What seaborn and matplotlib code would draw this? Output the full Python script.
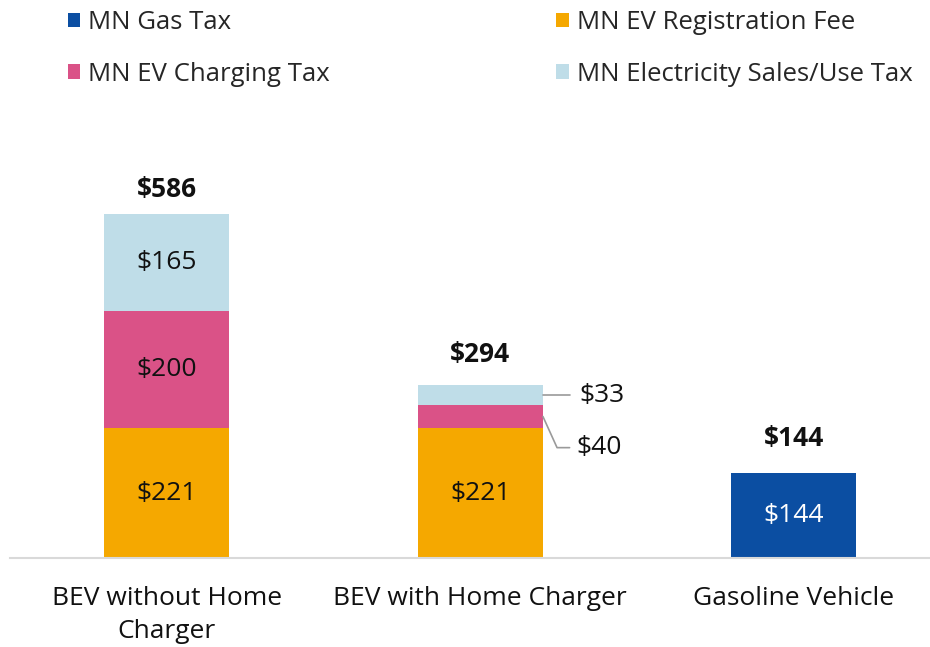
import matplotlib
matplotlib.use("Agg")
import matplotlib.pyplot as plt
import seaborn as sns
import numpy as np
from matplotlib.patches import Patch

categories = ["BEV without Home\nCharger", "BEV with Home Charger", "Gasoline Vehicle"]
series_names = ["MN Gas Tax", "MN EV Registration Fee", "MN EV Charging Tax",
                "MN Electricity Sales/Use Tax"]
gas_tax = [0, 0, 144]
registration_fee = [221, 221, 0]
charging_tax = [200, 40, 0]
electricity_tax = [165, 33, 0]
totals = [586, 294, 144]
colors = ["#0B4EA2", "#F5A800", "#DA5287", "#BFDDE8"]

sns.set_theme(style="white")
plt.rcParams["font.family"] = ["Open Sans", "DejaVu Sans"]

fig = plt.figure(figsize=(9.3, 6.47), dpi=100)
ax = fig.add_axes([10 / 930, 89 / 647, 920 / 930, 428.5 / 647])

layers = [gas_tax, registration_fee, charging_tax, electricity_tax]
cum = np.cumsum(np.array(layers), axis=0)
x = np.arange(len(categories))
bw = 0.4
# draw cumulative layers from top to bottom
for i in range(len(layers) - 1, -1, -1):
    sns.barplot(x=x, y=cum[i], color=colors[i], width=bw, ax=ax,
                linewidth=0, saturation=1, native_scale=True)

ax.set_xlim(-0.5, -0.5 + 920 / 313.5)
ax.set_ylim(0, 730)
for s in ["top", "right", "left"]:
    ax.spines[s].set_visible(False)
ax.spines["bottom"].set_color("#D9D9D9")
ax.spines["bottom"].set_linewidth(1.5)
ax.set_yticks([])
ax.set_xticks(x)
ax.set_xticklabels(categories, fontsize=19, color="#111111", linespacing=1.42)
ax.tick_params(axis="x", length=0, pad=20)
ax.set_xlabel("")
ax.set_ylabel("")

fs = 19
# inside labels
for j in range(len(categories)):
    bottom = 0
    for i, vals in enumerate(layers):
        v = vals[j]
        if v == 0:
            continue
        if v >= 100:
            ax.text(x[j], bottom + v / 2, f"${v}", ha="center", va="center",
                    fontsize=fs, color="white" if i == 0 else "#111111")
        bottom += v

total_gaps = [12, 17, 19.5]
for j in range(len(categories)):
    ax.annotate(f"${totals[j]}", (x[j], totals[j]), xytext=(0, total_gaps[j]),
                textcoords="offset points", ha="center", va="baseline",
                fontsize=fs, fontweight="bold", color="#111111")

# leader labels for small segments of second bar
j = 1
right = x[j] + bw / 2
mid_elec = cum[2][j] + electricity_tax[j] / 2
mid_charge = cum[1][j] + charging_tax[j] / 2
ax.plot([right, right + 0.085], [mid_elec, mid_elec], color="#9A9A9A", lw=1.2)
ax.text(right + 0.115, mid_elec, f"${electricity_tax[j]}", ha="left", va="center",
        fontsize=fs, color="#111111")
low = mid_charge - 53
ax.plot([right, right + 0.045, right + 0.085], [mid_charge, low, low],
        color="#9A9A9A", lw=1.2)
ax.text(right + 0.107, low, f"${charging_tax[j]}", ha="left", va="center",
        fontsize=fs, color="#111111")

handles = [Patch(facecolor=c, edgecolor="none") for c in colors]
order = [0, 2, 1, 3]
fig.legend([handles[k] for k in order], [series_names[k] for k in order],
           ncol=2, loc="upper left", bbox_to_anchor=(56 / 930, 1.002),
           frameon=False, fontsize=18.5, handlelength=0.5, handleheight=0.5,
           handletextpad=0.3, labelspacing=1.03, columnspacing=8.8,
           borderaxespad=0.05)

fig.savefig("out.png", dpi=100)
